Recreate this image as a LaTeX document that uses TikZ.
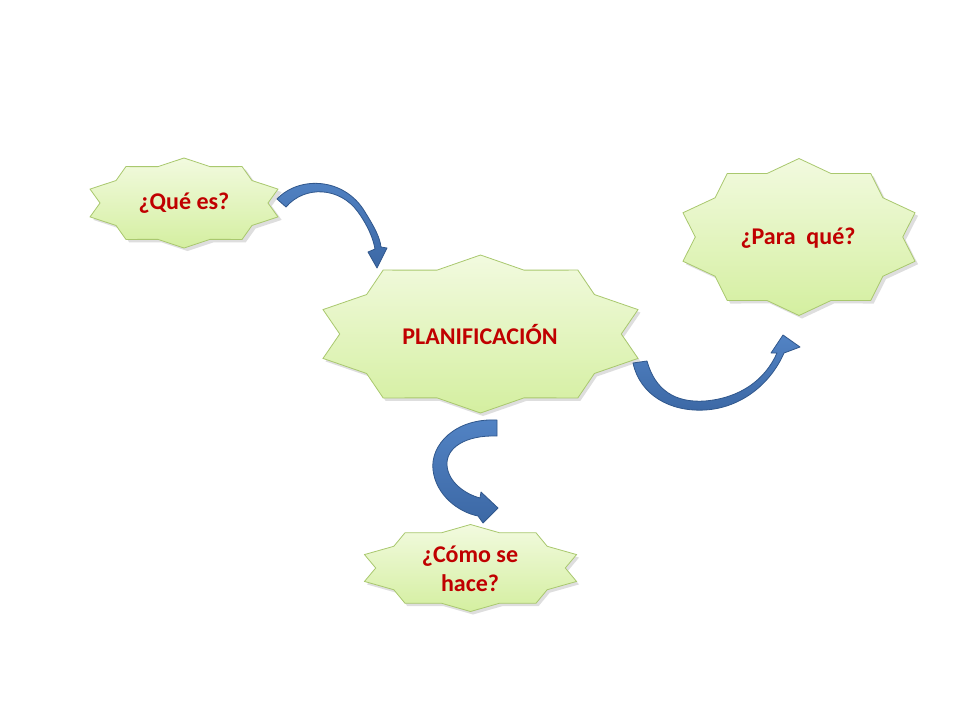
\documentclass[tikz,border=0pt]{standalone}
\usepackage{fontspec}
\setmainfont{Carlito}
\definecolor{txtred}{HTML}{C00000}
\definecolor{startop}{HTML}{F2FADF}
\definecolor{starbot}{HTML}{D4EFA0}
\definecolor{starline}{HTML}{A9C86E}
\definecolor{arrtop}{HTML}{5283C4}
\definecolor{arrbot}{HTML}{3C68A5}
\definecolor{arrline}{HTML}{30578C}
\newcommand\tenstar[5]{% #1 style, #2 cx, #3 cy, #4 rx, #5 ry
  \path[#1] ([shift={(#2,#3)}]90:#4 and #5)
    \foreach \k in {0,...,9}{
      -- ([shift={(#2,#3)}]{108+36*\k}:{0.85*#4} and {0.85*#5})
      -- ([shift={(#2,#3)}]{126+36*\k}:{#4} and {#5})
    } -- cycle;}
\tikzset{
  starfill/.style={top color=startop, bottom color=starbot, draw=starline, line width=0.8pt, line join=miter},
  starshadow/.style={fill=black, opacity=0.13},
  lbl/.style={font=\bfseries\fontsize{24}{29}\selectfont, text=txtred, align=center, inner sep=0pt},
  bluearrow/.style={top color=arrtop, bottom color=arrbot, draw=arrline, line width=0.8pt, line join=round}
}
\begin{document}
\begin{tikzpicture}[x=1pt,y=-1pt]
\useasboundingbox (0,0) rectangle (960,720);
\fill[white] (0,0) rectangle (960,720);
% shadows
\tenstar{starshadow}{187.5}{206}{99}{45}
\tenstar{starshadow}{802}{240}{122}{78.5}
\tenstar{starshadow}{483}{337}{165.6}{79}
\tenstar{starshadow}{473}{571}{111.5}{43.5}
% stars
\tenstar{starfill}{184}{203}{98.8}{45}
\tenstar{starfill}{799}{237}{122}{78.5}
\tenstar{starfill}{480.5}{334}{165.6}{79}
\tenstar{starfill}{470.5}{568}{111.5}{43.5}
% labels
\node[lbl] (que) at (184,203) {¿Qué es?};
\node[lbl] (para) at (798,238) {¿Para\ \ qué?};
\node[lbl] (plan) at (480,334) {PLANIFICACIÓN};
\node[lbl] (como) at (470,569) {¿Cómo se\\hace?};
% arrow 1: que -> plan
\path[bluearrow] (277,199) .. controls (300,175) and (345,178) .. (365,212)
  .. controls (375,228) and (380,238) .. (381,247) -- (387,248) -- (377,268) -- (368,252) -- (375,249)
  .. controls (373,238) and (368,226) .. (358,212)
  .. controls (340,187) and (305,185) .. (286,207) -- cycle;
% arrow 2: plan -> para
\path[bluearrow] (633,363) .. controls (640,395) and (670,412) .. (705,410)
  .. controls (740,408) and (770,385) .. (784,353) -- (800,347) -- (783,335) -- (771,353) -- (777,353)
  .. controls (765,380) and (740,398) .. (705,401)
  .. controls (675,403) and (655,390) .. (647,361) -- cycle;
% arrow 3: plan -> como
\path[bluearrow] (497,420) .. controls (455,418) and (430,445) .. (433,470)
  .. controls (436,495) and (458,512) .. (478,516) -- (483,523) -- (498,508) -- (481,492) -- (480,498)
  .. controls (465,494) and (448,482) .. (447,465)
  .. controls (446,448) and (465,435) .. (497,436) -- cycle;
\end{tikzpicture}
\end{document}
